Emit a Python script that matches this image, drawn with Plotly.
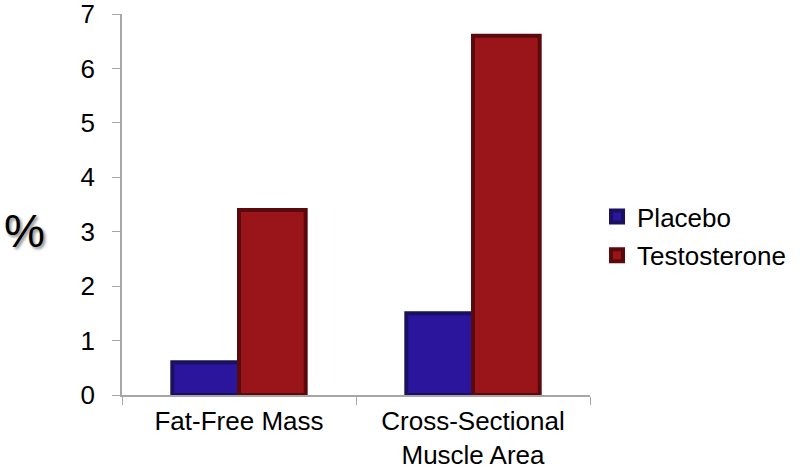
import plotly.graph_objects as go

categories = ["Fat-Free Mass", "Cross-Sectional<br>Muscle Area"]
placebo = [0.6, 1.5]
testosterone = [3.4, 6.6]
y_ticks = [0, 1, 2, 3, 4, 5, 6, 7]

FONT = "Liberation Sans, Arial, sans-serif"

fig = go.Figure()
fig.add_trace(go.Bar(
    name="Placebo", x=categories, y=placebo,
    marker=dict(color="#2a159c", line=dict(color="#1a1060", width=4)),
    legendgroup="p",
))
fig.add_trace(go.Bar(
    name="Testosterone", x=categories, y=testosterone,
    marker=dict(color="#9a1519", line=dict(color="#5a0a0c", width=4)),
    legendgroup="t",
))

fig.update_layout(
    width=800, height=469,
    margin=dict(l=122, r=210, t=14, b=74, autoexpand=False),
    paper_bgcolor="white", plot_bgcolor="white",
    barmode="group", bargap=0.43, bargroupgap=0,
    font=dict(family=FONT, color="black", size=26),
    showlegend=True,
    legend=dict(x=1.015, y=0.53, xanchor="left", yanchor="top",
                font=dict(size=26, family=FONT), traceorder="grouped",
                tracegroupgap=2, bgcolor="rgba(0,0,0,0)"),
    xaxis=dict(showline=True, linecolor="#a6a6a6", linewidth=1.5,
               ticks="outside", tickson="boundaries", ticklen=8,
               tickcolor="#a6a6a6", showgrid=False, automargin=False,
               ticklabelstandoff=2,
               tickfont=dict(size=26, family=FONT)),
    yaxis=dict(range=[0, 7], tickvals=y_ticks, showline=True,
               linecolor="#a6a6a6", linewidth=1.5, ticks="outside",
               ticklen=8, tickcolor="#a6a6a6", showgrid=False,
               zeroline=False, ticklabelstandoff=12, automargin=False,
               ticklabeloverflow="allow",
               tickfont=dict(size=26, family=FONT)),
)

fig.add_annotation(
    text="%", xref="paper", yref="paper", x=-0.208, y=0.43,
    xanchor="center", yanchor="middle", showarrow=False,
    font=dict(size=46, family=FONT, color="black", shadow="2px 2px 3px #888"),
)

fig.write_html(
    "out.html",
    config={"displayModeBar": False},
    post_script="document.body.style.margin='0';document.body.style.padding='0';",
)
